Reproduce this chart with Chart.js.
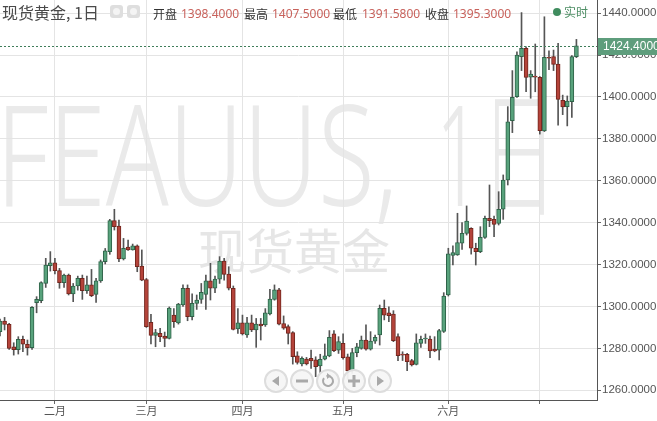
<!DOCTYPE html>
<html><head><meta charset="utf-8">
<script src="https://cdn.jsdelivr.net/npm/chart.js@4.4.1/dist/chart.umd.min.js"></script>
<style>
html,body{margin:0;padding:0;background:#fff;overflow:hidden}
#wrap{position:relative;width:657px;height:421px}
#c{position:absolute;left:0;top:0}
.t{position:absolute;white-space:nowrap;font-family:"Noto Sans CJK SC","Noto Sans",sans-serif;line-height:16px}
.lab{font-size:12px;color:#333;top:6px}
.val{font-size:12px;color:#c8625c;top:6px;font-family:"Noto Sans","Noto Sans CJK SC",sans-serif}
.ico{position:absolute;top:5px;width:13px;height:13px;border-radius:3px;background:#dedede}
.ico i{position:absolute;left:3px;top:3px;width:7px;height:7px;border-radius:50%;background:#f4f4f4}
</style></head>
<body><div id="wrap">
<canvas id="c" width="657" height="421"></canvas>
<div class="t" style="left:2px;top:2px;font-size:16px;color:#4a4a4a;line-height:20px">现货黄金, 1日</div>
<div class="ico" style="left:110px"><i></i></div>
<div class="ico" style="left:127px"><i></i></div>
<div class="t lab" style="left:153px">开盘</div><div class="t val" style="left:181px">1398.4000</div>
<div class="t lab" style="left:244px">最高</div><div class="t val" style="left:272px">1407.5000</div>
<div class="t lab" style="left:333px">最低</div><div class="t val" style="left:362px">1391.5800</div>
<div class="t lab" style="left:425px">收盘</div><div class="t val" style="left:453px">1395.3000</div>
<div style="position:absolute;left:553px;top:8px;width:8px;height:8px;border-radius:50%;background:#3f8c5e"></div>
<div class="t" style="left:564px;top:4px;font-size:12px;color:#4f8f66">实时</div>
</div>
<script>
// ---- data ----
const opens = [1288,1293,1291.5,1280.8,1279.4,1284.3,1282,1280.3,1301.8,1302.8,
1311,1319.5,1320.9,1317.1,1311.4,1315,1306,1309.8,1313.4,1307.6,
1310.3,1305.8,1312.2,1321.4,1326.2,1341,1338.4,1322.7,1328.4,1327,
1328.9,1319.3,1312.9,1292.4,1286.2,1287.2,1285.9,1284.8,1295.9,1292.2,
1300.7,1308.7,1295.1,1301.5,1303.4,1305.8,1312.2,1308.7,1313.1,1321.7,
1315.5,1308.7,1289.3,1292.2,1286.4,1292.2,1288.8,1291.6,1291.2,1296.4,
1303.4,1307.9,1291.9,1290.4,1287.5,1276.4,1272.6,1274.9,1275.3,1274.5,
1271.6,1274.8,1276.4,1286.9,1279.2,1282.4,1276,1269.4,1278,1280,
1284,1279.6,1283.5,1286.4,1299.1,1297,1296.4,1285.6,1277.3,1277.2,
1274.2,1272.4,1282.4,1284.5,1284.5,1279.6,1279.2,1288.1,1305.5,1324.4,
1324.6,1330.2,1334.9,1337.3,1327.8,1326.2,1333,1342.1,1341.6,1339.7,
1346.4,1360.4,1388.7,1400.2,1419.2,1423.2,1409.5,1409.8,1409.4,1383.8,
1418.9,1419.3,1415.7,1398.4,1395.4,1397.8,1419.3];
const highs = [1294,1294.8,1292,1282.7,1285.6,1285.9,1284,1300,1304.7,1311.8,
1323,1326.2,1323,1318.2,1315.5,1315.5,1311,1314.5,1315,1314.5,
1317.7,1313.4,1322.2,1327.7,1341.6,1346.4,1341.3,1332.5,1331.7,1329.8,
1329.4,1327,1313.4,1296.3,1289.1,1289.6,1287.8,1299.8,1299,1301.5,
1310.3,1310.3,1306,1305.5,1311,1315,1320.6,1314.5,1323.8,1323,
1319,1309.8,1299,1295.9,1294.8,1295.9,1294.3,1294.3,1299,1308.2,
1310.3,1308.7,1295.5,1291.2,1288,1278.4,1276,1275.7,1279.2,1276,
1277.2,1282.1,1288.5,1288.5,1285.6,1286.9,1277.3,1280,1282.4,1285.9,
1291.2,1288,1286.4,1300.7,1303.1,1299.9,1298,1286.9,1278.4,1277.7,
1274.8,1286.9,1285.9,1286.9,1285.9,1285.6,1289.1,1306.6,1327.8,1328.9,
1344.5,1340,1348,1337.6,1330.2,1338.1,1343.2,1358,1343.2,1354.8,
1362.8,1395.4,1412.6,1421.6,1440.3,1424,1412.6,1425.3,1409.8,1438.3,
1422,1422.4,1425.6,1400.9,1400.5,1419.8,1427.5];
const lows = [1286,1288.8,1279.5,1276.8,1277.3,1278.4,1276.8,1279.5,1297,1301.8,
1309.1,1316.9,1315.5,1308.7,1309.1,1305.5,1302.3,1307.8,1303.4,1306.3,
1304.7,1302,1311.5,1320.3,1324.9,1336.5,1321.4,1322.2,1326.8,1326.9,
1316.6,1312.3,1290,1282.1,1280.8,1283.2,1280.8,1284.5,1290,1291.6,
1300,1293.2,1293.6,1298.6,1301.5,1298.6,1303.1,1306.6,1311,1312.6,
1307.9,1288.8,1287.2,1286.4,1285.3,1288,1280.5,1284,1290.5,1296,
1303,1291.2,1289.1,1282.1,1272.5,1272.5,1271.6,1272.1,1270.5,1266.5,
1268.4,1274.5,1276,1278.4,1277.6,1274.8,1265.2,1268.1,1276,1279.6,
1279.2,1279.2,1282.4,1281.6,1293.6,1292.8,1283.2,1274.2,1274.2,1269.4,
1271.6,1272.1,1280.5,1282.4,1275.6,1278.4,1274.5,1287.6,1305,1319.8,
1324.4,1327.3,1334.1,1325,1319.8,1325.7,1332.5,1338.1,1333.3,1338.9,
1341.6,1358,1383,1399.8,1412.6,1402.5,1399.4,1402.5,1382.3,1383.5,
1413,1412.6,1386.6,1391.58,1386.2,1390.3,1418.8];
const closes = [1293,1291.5,1280,1279.4,1284.3,1282,1280.3,1299.6,1303.4,1311.4,
1319.8,1320.9,1317.1,1311.4,1315,1306,1309.8,1313.4,1307.6,1310.3,
1305.2,1312.2,1321.4,1326.6,1341,1338.1,1322.7,1327.8,1327,1328.9,
1319,1312.6,1290.4,1286.2,1287.5,1285.6,1284.8,1299.3,1292.7,1301.2,
1308.7,1295.1,1301.5,1303.1,1306.8,1312.2,1308.7,1313.1,1321.7,1315.3,
1308.7,1289.1,1292.2,1286.9,1292.2,1288.8,1291.6,1290.7,1297,1303.6,
1307.9,1291.6,1289.6,1287.2,1276,1273.3,1275.3,1272.6,1274,1271.3,
1274.8,1276.4,1285.3,1278.9,1283.2,1275.6,1269.4,1278,1280.8,1284,
1279.6,1283.5,1285.3,1299.1,1295.9,1295.6,1283.7,1276.5,1276.8,1273.7,
1272.1,1282.7,1284.3,1284.8,1278.8,1278.8,1288.5,1305,1325.1,1325.7,
1330.5,1334.9,1340.8,1327.8,1326.2,1333,1342.1,1341,1339.2,1346.4,
1360.4,1388.2,1399.8,1420,1423.2,1409.4,1410.9,1409.5,1383.9,1418.9,
1418.5,1415.6,1398.9,1395.3,1398.1,1419.3,1424.4];
const monthTickIdx = [12, 32, 53, 75, 98, 118];
const monthTickLabels = ['二月', '三月', '四月', '五月', '六月', ''];
const yTicks = [1260, 1280, 1300, 1320, 1340, 1360, 1380, 1400, 1420, 1440];
const lastPrice = 1424.4;

// ---- styles ----
const UP_FILL = '#58a27c', UP_LINE = '#2f6349', DN_FILL = '#b4433a', DN_LINE = '#72261e', WICK = '#555';
const up = opens.map((o, i) => closes[i] >= o);
const bodyData = opens.map((o, i) => ({x: i, y: [o, closes[i]]}));
const wickData = opens.map((o, i) => ({x: i, y: [lows[i], highs[i]]}));

function fitText(ctx, txt, x0, x1, base) {
  const w = ctx.measureText(txt).width;
  ctx.save();
  ctx.translate(x0, base);
  ctx.scale((x1 - x0) / w, 1);
  ctx.fillText(txt, 0, 0);
  ctx.restore();
}

const deco = {
  id: 'deco',
  beforeDraw(chart) {
    const ctx = chart.ctx;
    ctx.save();
    ctx.fillStyle = '#eaeaea';
    ctx.font = '300 140px "Noto Sans","Noto Sans CJK SC",sans-serif';
    ctx.textBaseline = 'alphabetic';
    fitText(ctx, 'FEAUUS,', -4, 398, 206);
    fitText(ctx, '1日', 436, 558, 206);
    ctx.fillStyle = '#e6e6e6';
    ctx.font = '48px "Noto Sans CJK SC",sans-serif';
    ctx.fillText('现货黄金', 198, 269);
    ctx.restore();
  },
  afterDraw(chart) {
    const ctx = chart.ctx, ys = chart.scales.y, a = chart.chartArea;
    const py = Math.round(ys.getPixelForValue(lastPrice)) + 0.5;
    ctx.save();
    ctx.strokeStyle = '#3f7d5a'; ctx.lineWidth = 1; ctx.setLineDash([2, 2]);
    ctx.beginPath(); ctx.moveTo(a.left, py); ctx.lineTo(a.right, py); ctx.stroke();
    ctx.setLineDash([]);
    ctx.fillStyle = '#5e9d7c';
    ctx.fillRect(a.right + 1, py - 8.5, 60, 17);
    ctx.fillStyle = '#fff';
    ctx.font = '12px "Liberation Sans",Arial,sans-serif';
    ctx.textBaseline = 'middle';
    ctx.fillText(lastPrice.toFixed(4), a.right + 6, py + 0.5);
    // navigation buttons
    const bx = [276, 302, 328, 354, 380], by = 381;
    bx.forEach((x, k) => {
      ctx.beginPath(); ctx.arc(x, by, 11, 0, Math.PI * 2);
      ctx.fillStyle = 'rgba(246,246,246,0.95)'; ctx.fill();
      ctx.lineWidth = 2; ctx.strokeStyle = '#dddddd'; ctx.stroke();
      ctx.fillStyle = '#a9a9a9'; ctx.strokeStyle = '#a9a9a9';
      ctx.beginPath();
      if (k === 0) { ctx.moveTo(x - 4, by); ctx.lineTo(x + 3, by - 5); ctx.lineTo(x + 3, by + 5); ctx.fill(); }
      if (k === 1) { ctx.fillRect(x - 6, by - 1.5, 12, 3); }
      if (k === 2) { ctx.lineWidth = 2; ctx.arc(x, by, 5, -0.6 * Math.PI, 1.2 * Math.PI); ctx.stroke();
        ctx.beginPath(); ctx.moveTo(x - 1, by - 8); ctx.lineTo(x + 3, by - 5); ctx.lineTo(x - 1, by - 2); ctx.fill(); }
      if (k === 3) { ctx.fillRect(x - 6, by - 1.5, 12, 3); ctx.fillRect(x - 1.5, by - 6, 3, 12); }
      if (k === 4) { ctx.moveTo(x + 4, by); ctx.lineTo(x - 3, by - 5); ctx.lineTo(x - 3, by + 5); ctx.fill(); }
    });
    ctx.restore();
  }
};

new Chart(document.getElementById('c'), {
  type: 'bar',
  data: {
    datasets: [
      {data: bodyData, order: 0, grouped: false, barThickness: 4, borderWidth: 1, borderSkipped: false, minBarLength: 1,
       backgroundColor: up.map(u => u ? UP_FILL : DN_FILL), borderColor: up.map(u => u ? UP_LINE : DN_LINE)},
      {data: wickData, order: 1, grouped: false, barThickness: 1, borderWidth: 0, backgroundColor: WICK}
    ]
  },
  options: {
    responsive: false, animation: false, events: [],
    layout: {padding: 0},
    plugins: {legend: {display: false}, tooltip: {enabled: false}},
    scales: {
      x: {
        type: 'linear', min: 0, max: 130.5, offset: false,
        afterBuildTicks: s => { s.ticks = monthTickIdx.map(v => ({value: v})); },
        afterFit: s => { s.height = 21; s.paddingLeft = 0; s.paddingRight = 0; },
        ticks: {autoSkip: false, maxRotation: 0, padding: 0, color: '#555',
          font: {size: 11, family: '"Noto Sans CJK SC",sans-serif'},
          callback: (v, i) => monthTickLabels[i]},
        grid: {offset: false, color: '#e4e4e4', tickLength: 4, tickColor: '#666'},
        border: {color: '#555', width: 1}
      },
      y: {
        position: 'right', min: 1255.37, max: 1446.3,
        afterBuildTicks: s => { s.ticks = yTicks.map(v => ({value: v})); },
        afterFit: s => { s.width = 60; s.paddingTop = 0; s.paddingBottom = 0; },
        ticks: {padding: 1, color: '#555', font: {size: 11.5, family: '"Liberation Sans",Arial,sans-serif'},
          callback: v => Number(v).toFixed(4)},
        grid: {offset: false, color: '#e4e4e4', tickLength: 4, tickColor: '#666'},
        border: {color: '#555', width: 1}
      }
    }
  },
  plugins: [deco]
});
</script>
</body></html>
